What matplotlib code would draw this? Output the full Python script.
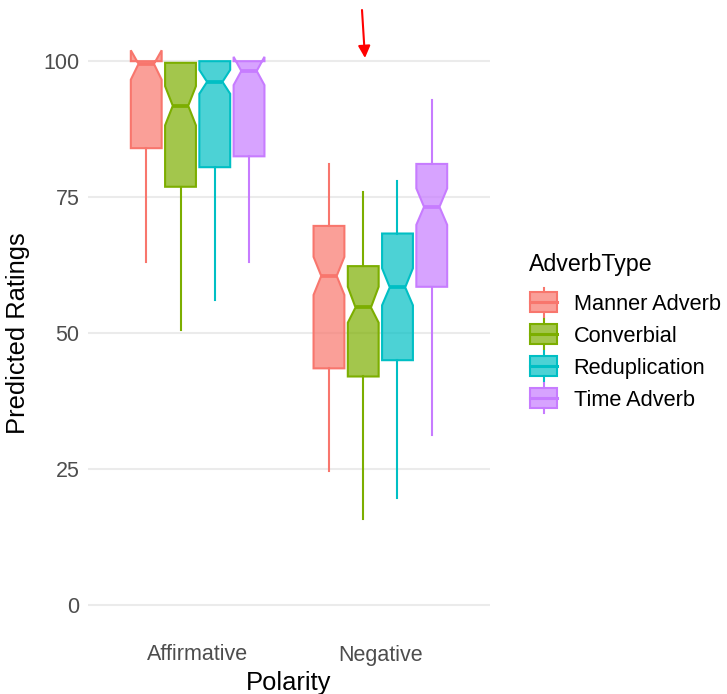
import matplotlib
matplotlib.use("Agg")
import matplotlib.pyplot as plt
from matplotlib.patches import Rectangle
from matplotlib.lines import Line2D
from matplotlib.legend_handler import HandlerBase
from matplotlib.colors import to_rgba

plt.rcParams['font.family'] = ['Liberation Sans', 'DejaVu Sans']

polarity = ["Affirmative", "Negative"]
adverb_types = ["Manner Adverb", "Converbial", "Reduplication", "Time Adverb"]
colors = ["#F8766D", "#7CAE00", "#00BFC4", "#C77CFF"]

# stats per adverb type: [Affirmative, Negative]
whislo = {"Manner Adverb": [63.0, 24.7], "Converbial": [50.5, 15.8],
          "Reduplication": [56.1, 19.6], "Time Adverb": [63.0, 31.2]}
q1 = {"Manner Adverb": [84.0, 43.5], "Converbial": [76.9, 42.0],
      "Reduplication": [80.5, 45.0], "Time Adverb": [82.5, 58.5]}
med = {"Manner Adverb": [99.5, 60.5], "Converbial": [91.8, 54.7],
       "Reduplication": [96.2, 58.4], "Time Adverb": [98.2, 73.2]}
q3 = {"Manner Adverb": [100.0, 69.7], "Converbial": [99.7, 62.3],
      "Reduplication": [100.0, 68.3], "Time Adverb": [100.0, 81.1]}
whishi = {"Manner Adverb": [100.0, 81.1], "Converbial": [99.7, 75.9],
          "Reduplication": [100.0, 78.0], "Time Adverb": [100.0, 92.8]}
cilo = {"Manner Adverb": [96.6, 57.0], "Converbial": [88.2, 51.9],
        "Reduplication": [94.0, 55.1], "Time Adverb": [95.6, 69.9]}
cihi = {"Manner Adverb": [102.0, 64.0], "Converbial": [95.4, 58.5],
        "Reduplication": [98.4, 61.9], "Time Adverb": [100.8, 76.6]}

W, H = 727, 694
fig = plt.figure(figsize=(W / 100, H / 100), dpi=100)
ax = fig.add_axes([88 / W, 1 - 632 / H, (490 - 88) / W, (632 - 34) / H])
ax.set_xlim(0.4, 2.6)
ax.set_ylim(-5, 105)

dodge = 0.75
n = len(adverb_types)
bw = dodge / n * 0.9
for j, at in enumerate(adverb_types):
    stats = []
    pos = []
    for i, p in enumerate(polarity):
        stats.append(dict(med=med[at][i], q1=q1[at][i], q3=q3[at][i],
                          whislo=whislo[at][i], whishi=whishi[at][i],
                          cilo=cilo[at][i], cihi=cihi[at][i], fliers=[]))
        pos.append(i + 1 + (j - (n - 1) / 2) * dodge / n)
    c = colors[j]
    ax.bxp(stats, positions=pos, widths=bw, shownotches=True, showcaps=False,
           showfliers=False, patch_artist=True,
           boxprops=dict(facecolor=to_rgba(c, 0.7), edgecolor=c, linewidth=1.5),
           whiskerprops=dict(color=c, linewidth=1.5),
           medianprops=dict(color=c, linewidth=2.7, solid_capstyle='butt'),
           manage_ticks=False, zorder=3)

ax.set_yticks([0, 25, 50, 75, 100])
ax.set_xticks([1, 2])
ax.set_xticklabels(polarity)
ax.yaxis.grid(True, color="#EBEBEB", linewidth=1.5, zorder=0)
ax.xaxis.grid(False)
ax.set_axisbelow(True)
for s in ax.spines.values():
    s.set_visible(False)
ax.tick_params(axis='both', length=0, labelsize=15.5, labelcolor="#4D4D4D")
ax.tick_params(axis='y', pad=6)
ax.tick_params(axis='x', pad=9)
ax.set_xlabel("Polarity", fontsize=18.4, color="black", labelpad=4)
ax.set_ylabel("Predicted Ratings", fontsize=18.4, color="black", labelpad=10)


class BoxHandler(HandlerBase):
    def __init__(self, color):
        super().__init__()
        self.color = color

    def create_artists(self, legend, orig_handle, xdescent, ydescent, width,
                       height, fontsize, trans):
        c = self.color
        cx = width / 2 - xdescent
        cy = height / 2 - ydescent
        bh = height * 1.25
        rect = Rectangle((-xdescent, cy - bh / 2), width, bh,
                         facecolor=to_rgba(c, 0.7), edgecolor=c, linewidth=1.5,
                         transform=trans)
        wl = Line2D([cx, cx], [cy - bh / 2 - 3.5, cy - bh / 2], color=c,
                    linewidth=1.5, transform=trans)
        wh = Line2D([cx, cx], [cy + bh / 2, cy + bh / 2 + 3.5], color=c,
                    linewidth=1.5, transform=trans)
        ml = Line2D([-xdescent, -xdescent + width], [cy, cy], color=c,
                    linewidth=2.2, transform=trans)
        return [rect, wl, wh, ml]


fig.text(529 / W, 1 - 265 / H, "AdverbType", fontsize=16.7, color="black",
         ha='left', va='center')

handles = [Rectangle((0, 0), 1, 1) for _ in adverb_types]
hmap = {h: BoxHandler(c) for h, c in zip(handles, colors)}
leg = fig.legend(handles, adverb_types, handler_map=hmap,
                 loc='upper left', bbox_to_anchor=(530 / W, 1 - 294 / H),
                 frameon=False, fontsize=15.7, handlelength=1.25,
                 handleheight=0.75, handletextpad=0.75, labelspacing=0.5,
                 borderaxespad=0, borderpad=0)

ax.annotate("", xy=(365, H - 58), xycoords='figure pixels',
            xytext=(362, H - 10), textcoords='figure pixels',
            arrowprops=dict(arrowstyle='-|>', color='red', lw=1.5,
                            mutation_scale=18, shrinkA=0, shrinkB=0),
            annotation_clip=False)

fig.savefig("out.png", dpi=100, facecolor="white")
